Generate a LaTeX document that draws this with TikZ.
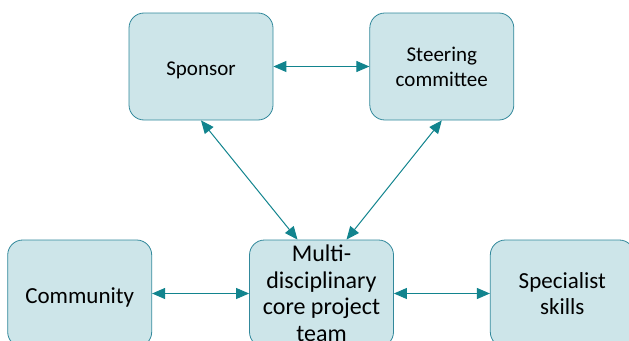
\documentclass[tikz,border=0pt]{standalone}
\usepackage{fontspec}
\setmainfont{Carlito}
\usepackage{tikz}
\usetikzlibrary{positioning}
\usetikzlibrary{arrows.meta}
\usepackage{xcolor}
\definecolor{boxfill}{RGB}{205,229,233}
\definecolor{boxline}{RGB}{49,136,155}
\definecolor{arrowcol}{RGB}{18,132,142}

\begin{document}
\begin{tikzpicture}[x=1pt,y=-1pt,
  box/.style={draw=boxline, fill=boxfill, line width=0.8pt, rounded corners=15pt,
    minimum width=144pt, minimum height=107pt, align=center, inner sep=2pt},
  topbox/.style={box, font=\fontsize{21}{25}\selectfont},
  lowbox/.style={box, font=\fontsize{23}{26.5}\selectfont},
  drop/.style={execute at begin node={\rule{0pt}{#1}}},
  link/.style={draw=arrowcol, line width=1pt,
    {Triangle[length=13pt,width=11pt]}-{Triangle[length=13pt,width=11pt]}}]
  \useasboundingbox (0,0) rectangle (629,340);
  \node [topbox, drop=21.7pt] (sponsor) at (201,66.5) {Sponsor};
  \node [topbox, drop=17.7pt, right=96pt of sponsor] (steering) {Steering\\committee};
  \node [lowbox, drop=24.2pt, font=\fontsize{24}{26.5}\selectfont] (core) at (321.5,293.5) {Multi-\\disciplinary\\core project\\team};
  \node [lowbox, drop=23pt, left=97pt of core] (community) {Community};
  \node [lowbox, drop=21.2pt, right=96pt of core] (specialist) {Specialist\\skills};
  \draw [link] (sponsor) -- (steering);
  \draw [link] (sponsor.south) -- ([xshift=-24pt]core.north);
  \draw [link] (steering.south) -- ([xshift=25pt]core.north);
  \draw [link] (community) -- (core);
  \draw [link] (core) -- (specialist);
\end{tikzpicture}
\end{document}
